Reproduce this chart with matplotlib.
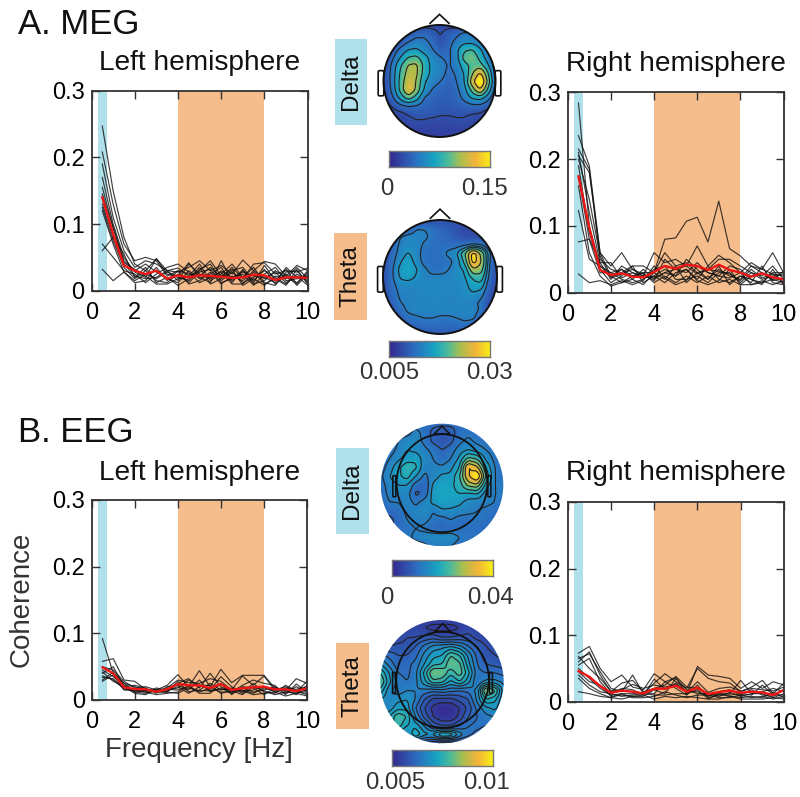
import numpy as np
import matplotlib
matplotlib.use('Agg')
import matplotlib.pyplot as plt
from matplotlib.colors import LinearSegmentedColormap
from matplotlib.patches import Circle, Ellipse, FancyBboxPatch, Polygon, Rectangle

plt.rcParams['font.family'] = ['Liberation Sans', 'DejaVu Sans']

W, H = 800, 797
DARK = '#333333'
BLUE_BAND = '#B0E0EA'
ORANGE_BAND = '#F5BC8C'

freqs = [0.5, 1, 1.5, 2, 2.5, 3, 3.5, 4, 4.5, 5, 5.5, 6, 6.5, 7, 7.5, 8, 8.5, 9, 9.5, 10]

# MEG, left hemisphere
meg_left_mean = [.140, .085, .038, .030, .025, .030, .018, .023, .020, .023, .022, .021, .019, .020, .024, .023, .016, .020, .020, .019]
meg_left_lines = [
    [.247, .150, .080, .040, .030, .048, .030, .028, .035, .045, .030, .038, .025, .046, .030, .044, .040, .022, .038, .030],
    [.208, .130, .070, .045, .050, .045, .022, .030, .025, .022, .035, .020, .035, .018, .040, .042, .025, .030, .028, .034],
    [.190, .110, .060, .035, .045, .040, .030, .015, .040, .025, .018, .030, .020, .028, .022, .020, .012, .035, .020, .022],
    [.170, .100, .050, .028, .020, .048, .025, .020, .015, .032, .040, .015, .028, .012, .020, .030, .020, .010, .025, .015],
    [.145, .095, .045, .030, .040, .028, .018, .012, .030, .018, .025, .035, .012, .032, .010, .015, .030, .020, .012, .028],
    [.130, .080, .040, .022, .018, .020, .030, .034, .022, .040, .015, .025, .040, .020, .035, .012, .008, .028, .030, .012],
    [.125, .075, .035, .018, .030, .015, .012, .025, .012, .028, .032, .012, .018, .025, .008, .025, .035, .015, .018, .020],
    [.070, .050, .030, .025, .012, .025, .035, .040, .028, .012, .020, .028, .010, .010, .028, .010, .018, .008, .032, .010],
    [.060, .080, .055, .020, .035, .012, .020, .008, .018, .035, .010, .018, .030, .035, .015, .032, .010, .025, .008, .025],
    [.032, .015, .028, .012, .015, .035, .015, .030, .010, .015, .028, .010, .022, .015, .030, .018, .028, .012, .022, .008],
    [.120, .070, .028, .015, .025, .018, .028, .022, .042, .020, .012, .045, .015, .030, .012, .038, .015, .032, .010, .030],
    [.155, .095, .042, .032, .022, .010, .010, .018, .020, .030, .045, .022, .032, .008, .018, .008, .022, .018, .035, .018],
]

# MEG, right hemisphere
meg_right_mean = [.174, .097, .034, .0265, .029, .024, .023, .031, .040, .036, .042, .040, .034, .042, .034, .030, .024, .029, .023, .020]
meg_right_lines = [
    [.284, .100, .040, .030, .035, .025, .030, .030, .080, .082, .107, .113, .076, .137, .066, .055, .040, .035, .028, .025],
    [.235, .190, .060, .040, .060, .035, .025, .060, .045, .050, .040, .070, .040, .056, .045, .030, .045, .035, .060, .030],
    [.215, .185, .050, .035, .030, .040, .040, .030, .060, .040, .045, .030, .035, .050, .050, .040, .030, .025, .040, .020],
    [.210, .120, .045, .020, .040, .030, .022, .025, .035, .025, .050, .035, .020, .035, .025, .020, .040, .030, .020, .015],
    [.205, .180, .060, .025, .015, .020, .035, .020, .030, .035, .030, .045, .030, .025, .040, .035, .020, .015, .030, .030],
    [.190, .090, .035, .015, .025, .040, .015, .025, .015, .030, .035, .020, .040, .020, .015, .025, .015, .040, .015, .012],
    [.175, .080, .030, .030, .020, .015, .020, .035, .040, .020, .020, .025, .015, .030, .030, .015, .030, .020, .025, .028],
    [.160, .060, .025, .010, .015, .025, .030, .015, .025, .015, .025, .015, .025, .015, .020, .012, .012, .018, .012, .018],
    [.123, .050, .040, .025, .035, .020, .012, .030, .020, .040, .015, .030, .020, .040, .012, .025, .020, .012, .035, .012],
    [.076, .080, .045, .045, .022, .030, .025, .022, .030, .025, .035, .018, .012, .018, .035, .012, .025, .030, .018, .022],
    [.028, .015, .018, .012, .018, .012, .018, .040, .022, .012, .018, .040, .030, .025, .022, .030, .012, .015, .020, .032],
    [.200, .140, .055, .022, .028, .035, .028, .018, .050, .035, .040, .028, .035, .032, .028, .018, .035, .022, .028, .015],
]

# EEG, left hemisphere
eeg_left_mean = [.049, .040, .019, .0165, .016, .0125, .016, .024, .022, .022, .018, .024, .015, .0175, .019, .020, .016, .016, .0135, .0175]
eeg_left_lines = [
    [.092, .040, .025, .020, .014, .015, .022, .038, .020, .044, .020, .046, .026, .037, .037, .037, .018, .014, .032, .025],
    [.058, .062, .030, .028, .016, .012, .018, .030, .026, .025, .032, .028, .015, .036, .022, .036, .015, .020, .012, .028],
    [.050, .045, .028, .018, .020, .015, .012, .025, .032, .018, .040, .020, .012, .022, .030, .025, .022, .008, .024, .012],
    [.045, .035, .022, .015, .012, .018, .015, .018, .030, .022, .015, .035, .020, .012, .015, .020, .012, .018, .016, .020],
    [.040, .050, .020, .022, .018, .010, .020, .022, .015, .030, .012, .018, .010, .018, .012, .015, .020, .012, .010, .015],
    [.036, .030, .018, .012, .015, .012, .012, .028, .012, .015, .025, .015, .018, .010, .025, .012, .010, .022, .014, .008],
    [.030, .042, .025, .012, .010, .014, .016, .015, .020, .012, .018, .012, .012, .015, .010, .018, .014, .010, .020, .012],
    [.028, .038, .015, .014, .012, .008, .010, .012, .022, .010, .010, .025, .008, .020, .018, .008, .018, .015, .008, .022],
    [.042, .028, .020, .010, .008, .016, .014, .020, .010, .020, .022, .010, .014, .008, .020, .014, .008, .012, .012, .010],
    [.034, .032, .016, .016, .014, .012, .012, .010, .018, .014, .014, .016, .016, .014, .008, .010, .012, .006, .010, .006],
]

# EEG, right hemisphere
eeg_right_mean = [.046, .0375, .0235, .0135, .0165, .015, .0125, .0195, .0195, .024, .015, .021, .0115, .0145, .0165, .0135, .015, .014, .010, .0175]
eeg_right_lines = [
    [.073, .083, .050, .030, .040, .022, .018, .042, .030, .036, .012, .053, .040, .038, .035, .020, .030, .020, .030, .025],
    [.065, .072, .045, .020, .015, .040, .012, .028, .042, .030, .020, .050, .035, .030, .028, .015, .022, .032, .012, .028],
    [.060, .075, .040, .015, .028, .032, .015, .020, .025, .038, .022, .020, .010, .012, .012, .032, .012, .015, .020, .015],
    [.055, .065, .030, .012, .020, .018, .010, .034, .018, .028, .015, .015, .008, .015, .018, .010, .018, .010, .008, .018],
    [.050, .035, .020, .010, .012, .012, .014, .012, .030, .020, .010, .025, .006, .010, .010, .012, .010, .025, .010, .010],
    [.045, .030, .025, .008, .010, .008, .008, .018, .012, .035, .018, .012, .012, .008, .014, .008, .012, .012, .006, .012],
    [.040, .025, .015, .012, .008, .010, .012, .010, .010, .012, .012, .018, .004, .012, .008, .006, .008, .006, .014, .006],
    [.035, .020, .012, .006, .012, .006, .006, .008, .015, .010, .006, .010, .010, .006, .006, .010, .006, .008, .004, .008],
    [.015, .012, .008, .006, .004, .008, .010, .004, .008, .006, .008, .006, .004, .004, .008, .004, .004, .004, .006, .004],
    [.068, .050, .035, .016, .018, .026, .020, .025, .022, .026, .014, .030, .014, .020, .022, .016, .020, .018, .016, .022],
]

# topographies, percent of the colour scale, rows from front to back of the head
meg_delta = [
    [12, 12, 12, 12, 12, 12, 12, 12, 12, 12, 12, 12, 12, 12, 12],
    [12, 12, 14, 18, 22, 24, 20, 14, 20, 24, 30, 28, 22, 14, 12],
    [12, 12, 18, 26, 32, 30, 24, 15, 22, 30, 36, 36, 30, 16, 12],
    [12, 18, 30, 40, 42, 34, 28, 20, 24, 36, 52, 55, 42, 26, 12],
    [12, 24, 40, 55, 58, 46, 34, 28, 24, 34, 60, 65, 50, 32, 14],
    [12, 30, 52, 70, 72, 50, 36, 33, 26, 30, 48, 58, 60, 42, 16],
    [14, 32, 56, 74, 72, 48, 36, 32, 24, 28, 40, 66, 90, 55, 18],
    [14, 32, 58, 80, 68, 42, 32, 27, 22, 26, 38, 78, 110, 62, 20],
    [14, 30, 58, 85, 66, 38, 26, 22, 20, 24, 34, 60, 85, 50, 18],
    [12, 24, 44, 62, 48, 26, 22, 20, 20, 22, 30, 42, 46, 32, 14],
    [10, 16, 24, 28, 26, 22, 20, 18, 18, 20, 22, 24, 24, 18, 12],
    [8, 10, 12, 16, 18, 18, 18, 16, 16, 16, 16, 15, 14, 10, 8],
    [8, 8, 10, 12, 14, 14, 12, 12, 12, 14, 14, 12, 10, 8, 8],
    [8, 8, 8, 10, 10, 10, 10, 10, 10, 10, 10, 10, 8, 8, 8],
    [8, 8, 8, 8, 8, 8, 8, 8, 8, 8, 8, 8, 8, 8, 8],
]
meg_theta = [
    [15, 15, 15, 15, 15, 15, 15, 15, 15, 15, 12, 12, 12, 12, 12],
    [15, 15, 15, 20, 30, 30, 26, 22, 20, 15, 12, 12, 12, 12, 12],
    [15, 18, 30, 34, 34, 32, 28, 24, 22, 18, 15, 14, 14, 14, 12],
    [15, 22, 32, 35, 35, 28, 25, 25, 25, 26, 28, 32, 30, 18, 14],
    [15, 24, 34, 40, 34, 26, 25, 26, 33, 38, 60, 100, 70, 32, 14],
    [15, 26, 38, 44, 36, 26, 25, 25, 27, 34, 52, 100, 75, 30, 14],
    [15, 28, 42, 46, 40, 32, 26, 26, 30, 36, 40, 72, 66, 28, 13],
    [15, 28, 40, 42, 38, 33, 33, 33, 33, 36, 38, 50, 54, 26, 12],
    [15, 26, 34, 34, 34, 34, 36, 34, 34, 34, 36, 44, 44, 22, 12],
    [14, 24, 32, 32, 34, 34, 35, 34, 34, 34, 36, 38, 34, 18, 10],
    [14, 22, 30, 32, 34, 33, 33, 34, 33, 33, 33, 32, 28, 14, 10],
    [14, 18, 26, 32, 34, 34, 34, 34, 34, 34, 34, 34, 28, 12, 10],
    [14, 16, 20, 26, 28, 30, 30, 28, 28, 30, 32, 32, 20, 12, 10],
    [14, 14, 16, 20, 22, 24, 24, 24, 24, 24, 26, 20, 14, 12, 10],
    [14, 14, 14, 16, 18, 18, 18, 18, 18, 18, 16, 14, 12, 10, 10],
]
eeg_delta = [
    [24, 24, 24, 24, 24, 24, 24, 24, 24, 24, 24, 24, 24, 24, 24],
    [24, 24, 24, 26, 34, 26, 20, 16, 18, 26, 28, 26, 24, 24, 24],
    [22, 24, 30, 36, 34, 28, 20, 16, 20, 28, 32, 28, 26, 24, 22],
    [22, 26, 32, 38, 36, 32, 28, 22, 26, 34, 38, 34, 30, 26, 22],
    [24, 30, 36, 42, 44, 34, 30, 24, 30, 40, 58, 54, 36, 28, 22],
    [26, 34, 44, 52, 48, 32, 32, 32, 36, 46, 90, 78, 46, 30, 26],
    [28, 38, 44, 50, 38, 28, 34, 40, 40, 54, 86, 104, 54, 30, 26],
    [26, 34, 38, 38, 26, 22, 40, 44, 44, 50, 68, 72, 42, 30, 28],
    [26, 32, 34, 34, 20, 24, 42, 46, 44, 46, 44, 46, 34, 30, 30],
    [24, 30, 30, 34, 28, 34, 40, 44, 42, 40, 34, 32, 32, 30, 26],
    [22, 24, 26, 32, 34, 36, 30, 36, 36, 34, 32, 30, 28, 26, 24],
    [20, 20, 24, 30, 32, 32, 28, 26, 30, 26, 26, 28, 26, 24, 22],
    [20, 22, 24, 28, 30, 28, 24, 22, 24, 24, 26, 26, 24, 22, 22],
    [22, 22, 24, 28, 32, 34, 36, 36, 36, 30, 28, 26, 24, 22, 22],
    [22, 22, 22, 24, 26, 28, 32, 32, 30, 26, 24, 22, 22, 22, 22],
]
eeg_theta = [
    [10, 10, 10, 10, 10, 10, 10, 10, 10, 10, 10, 10, 10, 10, 10],
    [10, 10, 10, 10, 12, 8, 6, 6, 6, 8, 12, 10, 10, 10, 10],
    [10, 10, 10, 14, 14, 16, 18, 14, 14, 16, 16, 12, 10, 10, 10],
    [14, 14, 16, 16, 20, 28, 34, 36, 38, 34, 26, 20, 14, 12, 10],
    [28, 24, 20, 20, 24, 34, 42, 44, 56, 50, 36, 24, 16, 14, 12],
    [38, 30, 22, 24, 28, 38, 48, 50, 62, 58, 40, 26, 20, 18, 16],
    [50, 38, 26, 24, 30, 46, 64, 62, 52, 60, 46, 28, 26, 26, 24],
    [58, 40, 30, 26, 30, 42, 54, 52, 42, 50, 40, 26, 34, 34, 30],
    [48, 34, 28, 32, 32, 30, 28, 30, 28, 26, 28, 34, 66, 58, 34],
    [38, 34, 36, 38, 32, 20, 12, 12, 12, 16, 20, 34, 50, 46, 32],
    [30, 34, 42, 42, 26, 14, 6, 2, 2, 8, 16, 28, 36, 40, 30],
    [36, 44, 56, 50, 32, 18, 8, 3, 3, 10, 20, 26, 30, 32, 26],
    [36, 42, 54, 44, 42, 32, 18, 14, 14, 20, 26, 28, 26, 26, 24],
    [24, 30, 36, 36, 50, 40, 40, 52, 50, 36, 28, 24, 20, 20, 18],
    [12, 14, 18, 20, 22, 18, 14, 10, 10, 14, 14, 14, 12, 12, 12],
]

parula = LinearSegmentedColormap.from_list('parula_like', [
    (0.0, '#35288F'), (0.25, '#2C6EC0'), (0.45, '#18A5C2'), (0.58, '#4DBB9A'),
    (0.7, '#A8BF50'), (0.85, '#F3B43A'), (1.0, '#F8F114')])


def ax_px(x0, y0, x1, y1):
    return fig.add_axes([x0 / W, 1 - y1 / H, (x1 - x0) / W, (y1 - y0) / H])


def fig_text(x, y, s, **kw):
    fig.text(x / W, 1 - y / H, s, **kw)


def spectrum(box, mean, lines):
    ax = ax_px(*box)
    ax.axvspan(0.3, 0.73, color=BLUE_BAND, lw=0)
    ax.axvspan(4, 8, color=ORANGE_BAND, lw=0)
    for ln in lines:
        ax.plot(freqs, ln, color='#111111', lw=0.85, alpha=0.8)
    ax.plot(freqs, mean, color='#EE1515', lw=1.7)
    ax.set_xlim(0, 10)
    ax.set_ylim(0, 0.3)
    ax.set_xticks([0, 2, 4, 6, 8, 10])
    ax.set_yticks([0, 0.1, 0.2, 0.3])
    ax.set_yticklabels(['0', '0.1', '0.2', '0.3'])
    ax.tick_params(direction='in', top=True, right=True, length=6, width=1,
                   color=DARK, labelsize=17, pad=5)
    ax.tick_params(axis='x', pad=8)
    for s in ax.spines.values():
        s.set_linewidth(1.3)
        s.set_color(DARK)
    return ax


def fine(z, smooth, n=6):
    # resample the coarse grid so that the contours come out smooth
    z = np.array(z, dtype=float) / 100
    k = z.shape[0]
    old = np.arange(k)
    new = np.linspace(0, k - 1, (k - 1) * n + 1)
    z = np.array([np.interp(new, old, row) for row in z])
    z = np.array([np.interp(new, old, col) for col in z.T]).T
    kernel = np.ones(smooth) / smooth
    pad = n
    z = np.pad(z, pad, mode='edge')
    z = np.apply_along_axis(lambda r: np.convolve(r, kernel, mode='same'), 0, z)
    z = np.apply_along_axis(lambda r: np.convolve(r, kernel, mode='same'), 1, z)
    return z[pad:-pad, pad:-pad]


def topo(cx, cy, r, grid, levels, smooth=4, lim=1.3):
    half = r * lim
    ax = ax_px(cx - half, cy - half, cx + half, cy + half)
    ax.set_xlim(-lim, lim)
    ax.set_ylim(-lim, lim)
    ax.axis('off')
    z = fine(grid, smooth)
    xs = np.linspace(-1, 1, z.shape[0])
    clip = Circle((0, 0), 1, transform=ax.transData)
    im = ax.imshow(z, extent=(-1, 1, -1, 1), origin='upper', cmap=parula, vmin=0, vmax=1,
                   interpolation='bilinear', zorder=2)
    im.set_clip_path(clip)
    cs = ax.contour(xs, xs[::-1], z, levels=levels, colors='#222222', linewidths=0.8, zorder=3)
    cs.set_clip_path(clip)
    ax.set_xlim(-lim, lim)
    ax.set_ylim(-lim, lim)
    return ax


def meg_head(ax):
    ax.add_patch(Circle((0, 0), 1, fill=False, ec='#111111', lw=1.4, zorder=5))
    ax.add_patch(Polygon([(-0.18, 1.02), (0, 1.19), (0.18, 1.02)], closed=False, fill=False,
                         ec='#111111', lw=1.2, zorder=1))
    for x0 in (-1.07, 1.02):
        ax.add_patch(FancyBboxPatch((x0, -0.24), 0.05, 0.40, boxstyle='round,pad=0.025',
                                    fc='white', ec='#111111', lw=1.2, zorder=1))


def eeg_head(ax, x0, y0, rx, ry):
    ax.add_patch(Ellipse((x0, y0), 2 * rx, 2 * ry, fill=False, ec='#111111', lw=1.3, zorder=5))
    ax.add_patch(Polygon([(x0 - 0.13, y0 + ry), (x0, y0 + ry + 0.13), (x0 + 0.13, y0 + ry)],
                         closed=True, fill=False, ec='#111111', lw=1.1, zorder=5))
    for ex in (x0 - rx - 0.05, x0 + rx + 0.02):
        ax.add_patch(FancyBboxPatch((ex, -0.18), 0.025, 0.32, boxstyle='round,pad=0.012',
                                    fill=False, ec='#111111', lw=1.1, zorder=5))


def colorbar(box):
    ax = ax_px(*box)
    ax.imshow(np.linspace(0, 1, 256)[None, :], aspect='auto', cmap=parula)
    ax.set_xticks([])
    ax.set_yticks([])
    for s in ax.spines.values():
        s.set_linewidth(1)
        s.set_color('#777777')


def tag(box, color, s):
    x0, y0, x1, y1 = box
    fig.add_artist(Rectangle((x0 / W, 1 - y1 / H), (x1 - x0) / W, (y1 - y0) / H, fc=color, ec='none',
                             transform=fig.transFigure))
    fig_text((x0 + x1) / 2, (y0 + y1) / 2, s, rotation=90, fontsize=17.5, ha='center', va='center',
             color='#111111')


fig = plt.figure(figsize=(W / 100, H / 100), dpi=100)

spectrum((91.5, 90.7, 307.7, 290.7), meg_left_mean, meg_left_lines)
spectrum((567.7, 92.3, 783.5, 292.7), meg_right_mean, meg_right_lines)
spectrum((91.7, 500, 307, 700), eeg_left_mean, eeg_left_lines)
spectrum((567.7, 502, 784, 701.7), eeg_right_mean, eeg_right_lines)

meg_head(topo(439.5, 81, 56, meg_delta, [.15, .27, .40, .54, .68, .85]))
meg_head(topo(440, 277, 57, meg_theta, [.30, .39, .48, .6, .75, .9]))
eeg_head(topo(442, 485, 61.3, eeg_delta, [.22, .3, .38, .46, .55, .65, .75, .88], smooth=3),
         0, 0.03, 0.74, 0.8)
eeg_head(topo(442, 681.7, 61.7, eeg_theta, [.08, .14, .2, .26, .32, .38, .44, .5, .56], smooth=3),
         0.01, 0.03, 0.75, 0.78)

colorbar((389, 151, 490, 167.3))
colorbar((389, 340.7, 490, 356.7))
colorbar((391.7, 560, 492.7, 576))
colorbar((391.7, 750, 492.7, 766))

tag((334.7, 39, 366.7, 125), BLUE_BAND, 'Delta')
tag((334, 233, 367, 320), ORANGE_BAND, 'Theta')
tag((336, 448, 368.7, 534), BLUE_BAND, 'Delta')
tag((336, 642.7, 369, 729), ORANGE_BAND, 'Theta')

cb_kw = dict(fontsize=17.3, ha='center', va='center', color=DARK)
fig_text(387, 189, '0', **cb_kw)
fig_text(485, 189, '0.15', **cb_kw)
fig_text(389, 372.7, '0.005', **cb_kw)
fig_text(489, 372.7, '0.03', **cb_kw)
fig_text(387, 598, '0', **cb_kw)
fig_text(491, 598, '0.04', **cb_kw)
fig_text(395, 782.7, '0.005', **cb_kw)
fig_text(487, 782.7, '0.01', **cb_kw)

head_kw = dict(fontsize=20.2, ha='center', va='center', color='#111111')
fig_text(200, 63, 'Left hemisphere', **head_kw)
fig_text(676, 64, 'Right hemisphere', **head_kw)
fig_text(200, 473, 'Left hemisphere', **head_kw)
fig_text(676, 473, 'Right hemisphere', **head_kw)
fig_text(18, 25, 'A. MEG', fontsize=25, ha='left', va='center', color='#111111')
fig_text(18, 433, 'B. EEG', fontsize=25, ha='left', va='center', color='#111111')
fig_text(199, 750, 'Frequency [Hz]', fontsize=20, ha='center', va='center', color=DARK)
fig_text(22, 599, 'Coherence', fontsize=20, rotation=90, ha='center', va='center', color=DARK)

fig.savefig('out.png', dpi=100)
